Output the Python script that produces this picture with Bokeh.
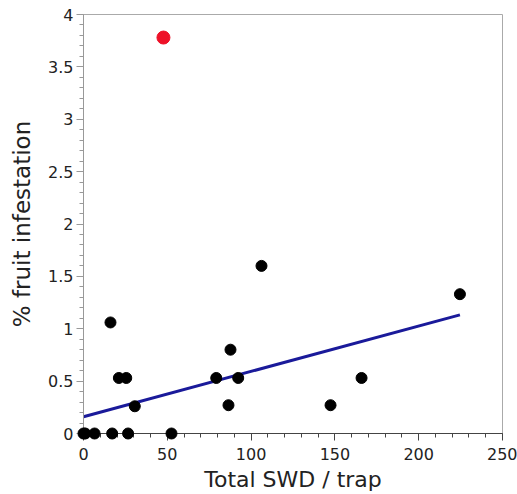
from bokeh.plotting import figure
from bokeh.models import Range1d, FixedTicker
from bokeh.embed import file_html
from bokeh.resources import INLINE

# Data
swd_x = [0, 1, 6.6, 17.1, 26.6, 52.5, 16.1, 21.1, 25.5, 30.6, 79.2, 86.5,
         87.7, 92.3, 106.2, 147.4, 165.9, 224.6]
infest_y = [0, 0, 0, 0, 0, 0, 1.06, 0.53, 0.53, 0.26, 0.53, 0.27,
            0.80, 0.53, 1.60, 0.27, 0.53, 1.33]
outlier_x = [47.7]
outlier_y = [3.78]
fit_intercept = 0.16
fit_slope = 0.00433
fit_x = [0, 224.6]
fit_y = [fit_intercept + fit_slope * v for v in fit_x]

x_ticks = [0, 50, 100, 150, 200, 250]
y_ticks = [0, 0.5, 1, 1.5, 2, 2.5, 3, 3.5, 4]
y_tick_labels = ["0", "0.5", "1", "1.5", "2", "2.5", "3", "3.5", "4"]

FONT = "DejaVu Sans"

p = figure(frame_width=419, frame_height=419, output_backend="svg",
           toolbar_location=None,
           x_range=Range1d(0, 250), y_range=Range1d(0, 4),
           min_border_left=83, min_border_top=14, min_border_right=15,
           min_border_bottom=55)
p.background_fill_color = "white"
p.border_fill_color = "white"
p.outline_line_color = "#aaaaaa"
p.outline_line_width = 1
p.xgrid.visible = False
p.ygrid.visible = False

p.xaxis.ticker = FixedTicker(ticks=x_ticks,
                             minor_ticks=[v for v in range(0, 251, 10)])
p.yaxis.ticker = FixedTicker(ticks=y_ticks,
                             minor_ticks=[i / 10 for i in range(0, 41)])
p.yaxis.major_label_overrides = {t: l for t, l in zip(y_ticks, y_tick_labels)}

for ax in (p.xaxis[0], p.yaxis[0]):
    ax.major_label_text_font = FONT
    ax.major_label_text_font_size = "16px"
    ax.major_label_text_color = "#222222"
    ax.axis_label_text_font = FONT
    ax.axis_label_text_font_style = "normal"
    ax.axis_label_text_color = "#222222"
    ax.major_tick_in = 0
    ax.major_tick_out = 7
    ax.minor_tick_in = 0
    ax.minor_tick_out = 4

p.xaxis.axis_label = "Total SWD / trap"
p.yaxis.axis_label = "% fruit infestation"
p.xaxis.axis_label_text_font_size = "22px"
p.yaxis.axis_label_text_font_size = "23px"
p.xaxis.major_label_standoff = 7
p.xaxis.axis_label_standoff = 4
p.yaxis.major_label_standoff = 3
p.yaxis.axis_label_standoff = 10
p.xaxis.axis_line_color = "#444444"
p.xaxis.major_tick_line_color = "#444444"
p.xaxis.minor_tick_line_color = "#444444"
p.yaxis.axis_line_color = "#999999"
p.yaxis.major_tick_line_color = "#999999"
p.yaxis.minor_tick_line_color = "#999999"

p.line(fit_x, fit_y, line_color="#1a1a9a", line_width=3)
r1 = p.scatter(swd_x, infest_y, size=11, fill_color="black", line_color="black")
r2 = p.scatter(outlier_x, outlier_y, size=13, fill_color="#ee1128", line_color="#ee1128")
r1.level = "overlay"
r2.level = "overlay"

open("out.html", "w").write(file_html(p, INLINE))
